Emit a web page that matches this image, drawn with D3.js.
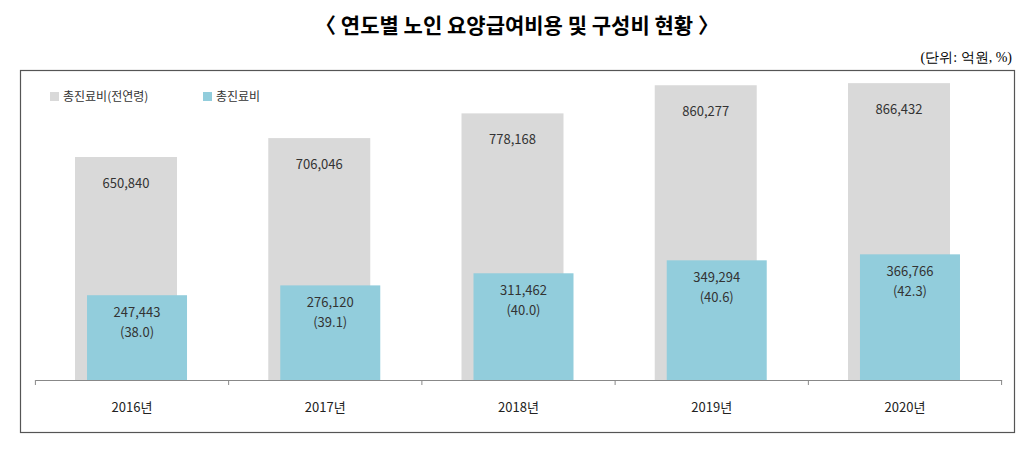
<!DOCTYPE html>
<html><head><meta charset="utf-8">
<script src="https://cdn.jsdelivr.net/npm/d3@7"></script>
<style>body{margin:0;background:#fff}</style></head>
<body><svg id="c" width="1035" height="464"></svg>
<script>
const categories = ["2016년","2017년","2018년","2019년","2020년"];
const totalAll = [650840,706046,778168,860277,866432];
const totalElder = [247443,276120,311462,349294,366766];
const shares = ["38.0","39.1","40.0","40.6","42.3"];
const seriesNames = ["총진료비(전연령)","총진료비"];
const colors = ["#d9d9d9","#92cddc"];

const svg = d3.select("#c");
const font = "'Noto Sans CJK KR', 'Noto Sans', sans-serif";
svg.append("text").attr("x",517).attr("y",33).attr("text-anchor","middle")
  .attr("font-family",font).attr("font-size",21).attr("font-weight","bold").text("〈 연도별 노인 요양급여비용 및 구성비 현황 〉");
svg.append("text").attr("x",1012).attr("y",62).attr("text-anchor","end")
  .attr("font-family","'Liberation Serif', serif").attr("font-size",14).text("(단위: 억원, %)");
svg.append("rect").attr("x",20.5).attr("y",70.5).attr("width",994).attr("height",362)
  .attr("fill","none").attr("stroke","#555").attr("stroke-width",1.2);

const x = d3.scaleBand().domain(categories).range([35.4,1001.6]);
const y = d3.scaleLinear().domain([0,950000]).range([380,54.5]);
const g = svg.append("g").attr("font-family",font);

g.selectAll(".ga").data(categories).join("rect")
  .attr("x",d=>x(d)+x.bandwidth()/2-57).attr("width",102)
  .attr("y",(d,i)=>y(totalAll[i])).attr("height",(d,i)=>y(0)-y(totalAll[i])).attr("fill",colors[0]);
g.selectAll(".gb").data(categories).join("rect")
  .attr("x",d=>x(d)+x.bandwidth()/2-45).attr("width",100)
  .attr("y",(d,i)=>y(totalElder[i])).attr("height",(d,i)=>y(0)-y(totalElder[i])).attr("fill",colors[1]);

const fmt = d3.format(",");
g.selectAll(".la").data(categories).join("text")
  .attr("x",d=>x(d)+x.bandwidth()/2-6).attr("y",(d,i)=>y(totalAll[i])+31)
  .attr("text-anchor","middle").attr("font-size",13).attr("fill","#333").text((d,i)=>fmt(totalAll[i]));
g.selectAll(".lb").data(categories).join("text")
  .attr("x",d=>x(d)+x.bandwidth()/2+5).attr("y",(d,i)=>y(totalElder[i])+22)
  .attr("text-anchor","middle").attr("font-size",13).attr("fill","#333").text((d,i)=>fmt(totalElder[i]));
g.selectAll(".lc").data(categories).join("text")
  .attr("x",d=>x(d)+x.bandwidth()/2+5).attr("y",(d,i)=>y(totalElder[i])+42)
  .attr("text-anchor","middle").attr("font-size",13).attr("fill","#333").text((d,i)=>"("+shares[i]+")");

const ax = svg.append("g").attr("transform","translate(0,380)")
  .call(d3.axisBottom(x).tickSize(5).tickSizeOuter(0).tickFormat(()=>""));
ax.select(".domain").attr("stroke","#888");
ax.selectAll(".tick").remove();
x.domain().concat(["end"]).forEach((d,i)=>{
  const xx = i<categories.length ? x(d) : x.range()[1];
  ax.append("line").attr("x1",xx).attr("x2",xx).attr("y1",0).attr("y2",5).attr("stroke","#888");
});
g.selectAll(".yl").data(categories).join("text")
  .attr("x",d=>x(d)+x.bandwidth()/2).attr("y",412).attr("text-anchor","middle")
  .attr("font-size",13).attr("fill","#222").text(d=>d);

const leg = g.selectAll(".leg").data(seriesNames).join("g")
  .attr("transform",(d,i)=>`translate(${i?203:50},92)`);
leg.append("rect").attr("width",9).attr("height",9).attr("fill",(d,i)=>colors[i]);
leg.append("text").attr("x",13).attr("y",9).attr("font-size",12).attr("fill","#333").text(d=>d);
</script></body></html>
